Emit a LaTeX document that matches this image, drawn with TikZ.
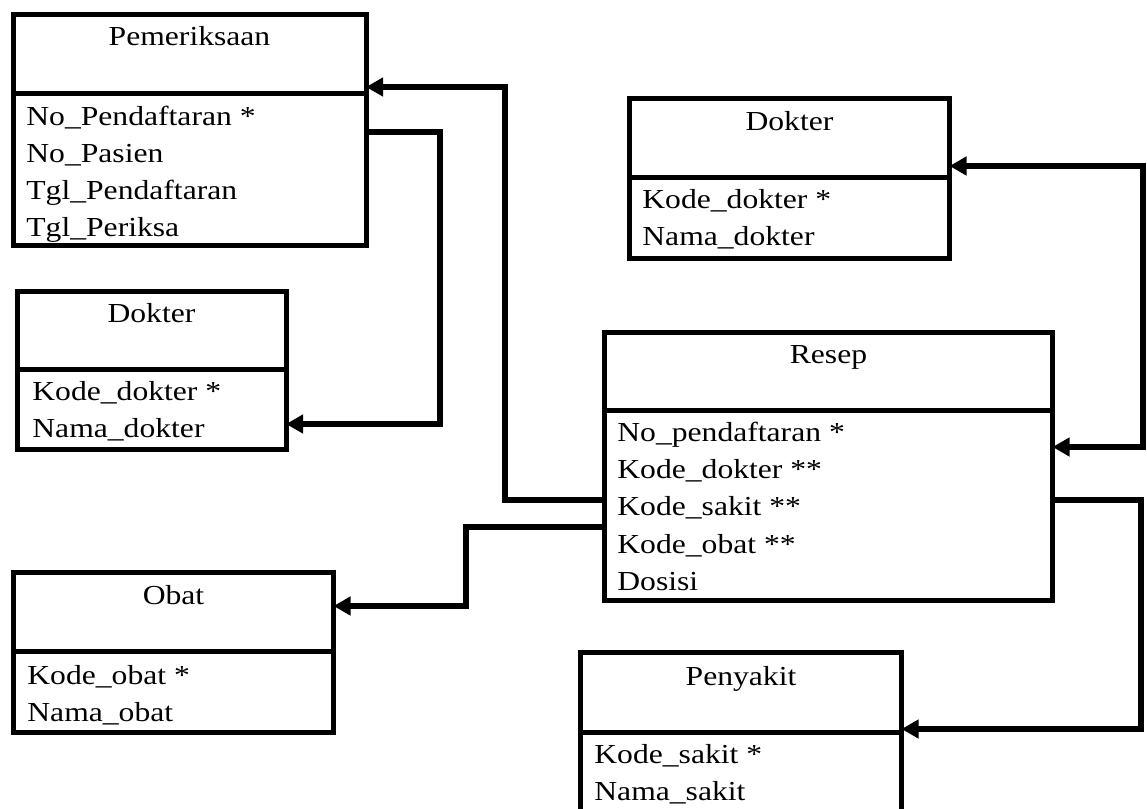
\documentclass[tikz,border=0pt]{standalone}
\usepackage{fontspec}
\setmainfont{Liberation Serif}[FakeStretch=1.15]
\usetikzlibrary{arrows.meta,fit}
\newcommand{\baris}[1]{\begin{tabular}[t]{@{}l@{}}#1\end{tabular}}

\begin{document}
\begin{tikzpicture}[x=0.5pt, y=-0.5pt, font=\fontsize{13.75}{18.6}\selectfont, >={Triangle[length=8.5pt,width=9pt]},
    entitas/.style = {draw, line width=2.5pt, inner sep=0pt, outer sep=0pt},
    pemisah/.style = {line width=2.5pt},
    judul/.style = {anchor=base, inner sep=0pt},
    isi/.style = {anchor=base west, inner sep=0pt},
    relasi/.style = {line width=2.75pt}]
    \useasboundingbox (0,0) rectangle (1147,809);
    \clip (0,0) rectangle (1147,809);

    % tabel-tabel
    \node[entitas, fit={(13,14) (366,245)}] (pem) {};
    \node[judul] (pemJ) at (pem.north |- 0,45) {Pemeriksaan};
    \draw[pemisah] (pem.west |- 0,93) -- (pem.east |- 0,93);
    \node[isi] (pemI) at (26,125) {\baris{No\_Pendaftaran *\\No\_Pasien\\Tgl\_Pendaftaran\\Tgl\_Periksa}};

    \node[entitas, fit={(17,291) (286,449)}] (dok1) {};
    \node[judul] (dok1J) at (dok1.north |- 0,322) {Dokter};
    \draw[pemisah] (dok1.west |- 0,369) -- (dok1.east |- 0,369);
    \node[isi] (dok1I) at (32,400) {\baris{Kode\_dokter *\\Nama\_dokter}};

    \node[entitas, fit={(629.5,98.5) (949.5,258)}] (dok2) {};
    \node[judul] (dok2J) at (dok2.north |- 0,130) {Dokter};
    \draw[pemisah] (dok2.west |- 0,177.5) -- (dok2.east |- 0,177.5);
    \node[isi] (dok2I) at (642,208) {\baris{Kode\_dokter *\\Nama\_dokter}};

    \node[entitas, fit={(604.5,332.5) (1052.5,600.5)}] (resep) {};
    \node[judul] (resepJ) at (resep.north |- 0,363) {Resep};
    \draw[pemisah] (resep.west |- 0,410) -- (resep.east |- 0,410);
    \node[isi] (resepI) at (617,441.5) {\baris{No\_pendaftaran *\\Kode\_dokter **\\Kode\_sakit **\\Kode\_obat **\\Dosisi}};

    \node[entitas, fit={(13.5,572.5) (333.5,732.5)}] (obat) {};
    \node[judul] (obatJ) at (obat.north |- 0,604) {Obat};
    \draw[pemisah] (obat.west |- 0,651.5) -- (obat.east |- 0,651.5);
    \node[isi] (obatI) at (27,684) {\baris{Kode\_obat *\\Nama\_obat}};

    \node[entitas, fit={(580.5,652.5) (901.5,830)}] (sakit) {};
    \node[judul] (sakitJ) at (sakit.north |- 0,685) {Penyakit};
    \draw[pemisah] (sakit.west |- 0,732) -- (sakit.east |- 0,732);
    \node[isi] (sakitI) at (594,763) {\baris{Kode\_sakit *\\Nama\_sakit}};

    % relasi
    \draw[relasi, ->] (resep.west |- 0,500) -| (505,87) -- (pem.east |- 0,87);
    \draw[relasi, ->] (pem.east |- 0,132) -| (440,424) -- (dok1.east |- 0,424);
    \draw[relasi, <->] (dok2.east |- 0,166) -| (1143,447) -- (resep.east |- 0,447);
    \draw[relasi, ->] (resep.west |- 0,527) -| (466,606) -- (obat.east |- 0,606);
    \draw[relasi, ->] (resep.east |- 0,500) -| (1141,729) -- (sakit.east |- 0,729);
\end{tikzpicture}
\end{document}
